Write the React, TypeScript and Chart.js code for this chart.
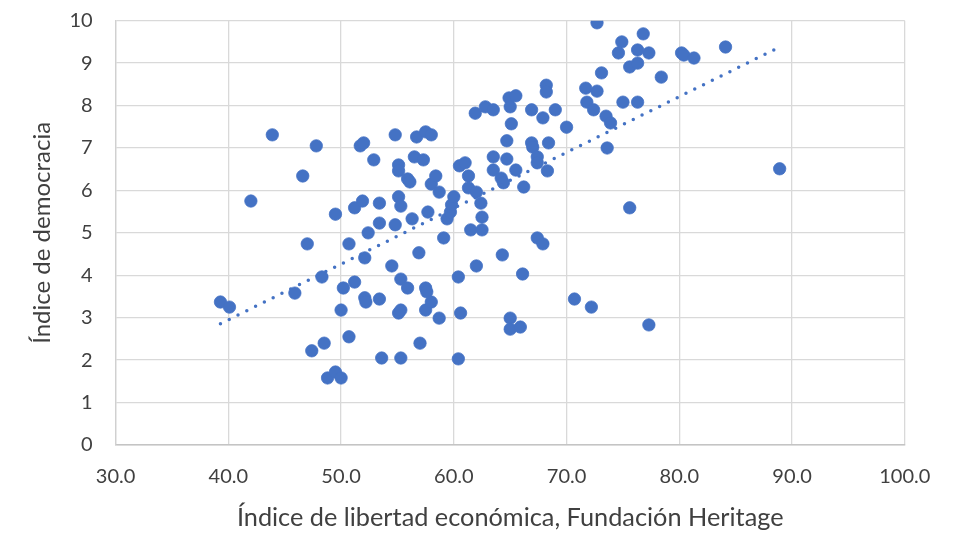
import React, { useEffect, useRef } from "react";
import { Chart, registerables } from "chart.js";
Chart.register(...registerables);

// Índice de libertad económica (x) and Índice de democracia (y), one entry per country
const libertad = [
  39.3, 40.1, 42.0, 43.9, 45.9, 46.6, 47.0, 47.8, 47.4, 48.3,
  48.5, 48.8, 49.5, 49.5, 50.0, 50.0, 50.2, 50.7, 50.7, 51.2,
  51.2, 51.7, 52.0, 51.9, 52.1, 52.1, 52.2, 52.4, 52.9, 53.4,
  53.4, 53.4, 53.6, 54.5, 54.8, 55.1, 55.1, 55.1, 54.8, 55.3,
  55.3, 55.1, 55.3, 55.3, 55.9, 55.9, 56.1, 56.3, 56.5, 56.7,
  56.9, 57.0, 57.3, 57.5, 57.5, 57.5, 57.6, 57.7, 58.0, 58.0,
  58.0, 58.4, 58.7, 58.7, 59.1, 59.4, 59.7, 59.8, 60.0, 60.4,
  60.4, 60.6, 60.5, 61.0, 61.3, 61.3, 62.0, 61.5, 61.9, 62.0,
  62.5, 62.5, 62.4, 62.8, 63.5, 63.5, 63.5, 64.2, 64.4, 64.3,
  64.7, 64.7, 64.9, 65.0, 65.1, 65.0, 65.0, 65.5, 65.5, 65.9,
  66.1, 66.2, 66.9, 66.9, 67.0, 67.4, 67.4, 67.4, 67.9, 67.9,
  68.4, 68.2, 68.2, 68.3, 69.0, 70.0, 70.7, 71.7, 71.8, 72.2,
  72.4, 72.7, 72.7, 73.1, 73.5, 73.9, 73.6, 74.6, 74.9, 75.0,
  75.6, 75.6, 76.3, 76.3, 76.3, 76.8, 77.3, 77.3, 78.4, 80.2,
  80.4, 81.3, 84.1, 88.9,
];
const democracia = [
  3.37, 3.25, 5.75, 7.31, 3.58, 6.34, 4.74, 7.05, 2.22, 3.96,
  2.40, 1.58, 1.72, 5.44, 1.58, 3.18, 3.70, 4.74, 2.55, 5.59,
  3.84, 7.05, 7.12, 5.75, 4.41, 3.47, 3.37, 5.00, 6.72, 5.70,
  5.23, 3.44, 2.05, 4.22, 7.31, 6.60, 6.46, 5.85, 5.19, 5.63,
  3.91, 3.11, 3.18, 2.05, 3.70, 6.27, 6.20, 5.33, 6.79, 7.26,
  4.53, 2.40, 6.72, 7.38, 3.70, 3.18, 3.61, 5.49, 7.31, 3.37,
  6.15, 6.34, 5.96, 2.99, 4.88, 5.33, 5.49, 5.66, 5.85, 3.96,
  2.03, 3.11, 6.58, 6.65, 6.34, 6.06, 5.96, 5.07, 7.82, 4.22,
  5.37, 5.07, 5.70, 7.97, 7.90, 6.79, 6.48, 6.29, 6.18, 4.48,
  7.17, 6.74, 8.18, 7.97, 7.57, 2.99, 2.73, 8.23, 6.48, 2.78,
  4.03, 6.08, 7.90, 7.12, 7.02, 6.79, 6.65, 4.88, 4.74, 7.71,
  7.12, 8.48, 8.32, 6.46, 7.90, 7.49, 3.44, 8.41, 8.08, 3.25,
  7.90, 9.95, 8.34, 8.77, 7.75, 7.59, 7.00, 9.24, 9.50, 8.08,
  5.59, 8.91, 9.31, 9.00, 8.08, 9.69, 9.24, 2.83, 8.67, 9.24,
  9.19, 9.12, 9.38, 6.51,
];
// Linear trendline (y = slope * x + intercept)
const trendSlope = 0.1315;
const trendIntercept = -2.31;
const xTickValues = [30, 40, 50, 60, 70, 80, 90, 100];
const yTickValues = [0, 1, 2, 3, 4, 5, 6, 7, 8, 9, 10];

const BLUE = "#4472C4";
const TEXT = "#404040";
const FONT = "Lato, 'Liberation Sans', sans-serif";

export default function App() {
  const ref = useRef<HTMLCanvasElement>(null);
  useEffect(() => {
    if (!ref.current) return;
    const pts = libertad.map((x, i) => ({ x, y: democracia[i] }));
    const xmin = Math.min(...libertad);
    const xmax = Math.max(...libertad);
    const trend = [
      { x: xmin, y: trendIntercept + trendSlope * xmin },
      { x: xmax, y: trendIntercept + trendSlope * xmax },
    ];

    const chart = new Chart(ref.current, {
      type: "scatter",
      data: {
        datasets: [
          {
            label: "Lineal",
            data: trend,
            showLine: true,
            borderColor: BLUE,
            borderWidth: 3.5,
            borderDash: [0, 9.8],
            borderCapStyle: "round",
            pointRadius: 0,
            pointHoverRadius: 0,
          },
          {
            label: "Países",
            data: pts,
            backgroundColor: BLUE,
            borderColor: BLUE,
            borderWidth: 0.75,
            pointRadius: 6.2,
            pointHoverRadius: 6.2,
          },
        ],
      },
      options: {
        responsive: false,
        animation: false,
        devicePixelRatio: 1,
        events: [],
        layout: { autoPadding: false, padding: { left: 0, right: 55.2, top: 20.7, bottom: 0 } },
        plugins: { legend: { display: false }, tooltip: { enabled: false } },
        scales: {
          x: {
            type: "linear",
            min: 30,
            max: 100,
            afterBuildTicks: (s: any) => {
              s.ticks = xTickValues.map((v) => ({ value: v }));
            },
            afterFit: (s: any) => {
              s.height = 93;
            },
            grid: { color: "#d9d9d9", lineWidth: 1.3, drawTicks: false },
            border: { color: "#c4c4c4", width: 1.6 },
            ticks: {
              padding: 20,
              color: TEXT,
              font: { family: FONT, size: 20 },
              callback: (v: any) => Number(v).toFixed(1),
            },
            title: {
              display: true,
              text: "Índice de libertad económica, Fundación Heritage",
              color: TEXT,
              font: { family: FONT, size: 25.3 },
              padding: { top: 0, bottom: 5.2 },
            },
          },
          y: {
            type: "linear",
            min: 0,
            max: 10,
            afterBuildTicks: (s: any) => {
              s.ticks = yTickValues.map((v) => ({ value: v }));
            },
            afterFit: (s: any) => {
              s.width = 115.6;
              s.paddingTop = 0;
              s.paddingBottom = 0;
            },
            grid: { color: "#d9d9d9", lineWidth: 1.3, drawTicks: false },
            border: { color: "#d0d0d0", width: 1.3 },
            ticks: {
              padding: 23,
              color: TEXT,
              font: { family: FONT, size: 20 },
            },
            title: {
              display: true,
              text: "Índice de democracia",
              color: TEXT,
              font: { family: FONT, size: 24 },
              padding: { top: 27.6, bottom: 0 },
            },
          },
        },
      },
    });
    return () => chart.destroy();
  }, []);
  return (
    <div style={{ position: "absolute", left: 0, top: 0, width: 960, height: 538, background: "#fff" }}>
      <canvas ref={ref} width={960} height={538} />
    </div>
  );
}
